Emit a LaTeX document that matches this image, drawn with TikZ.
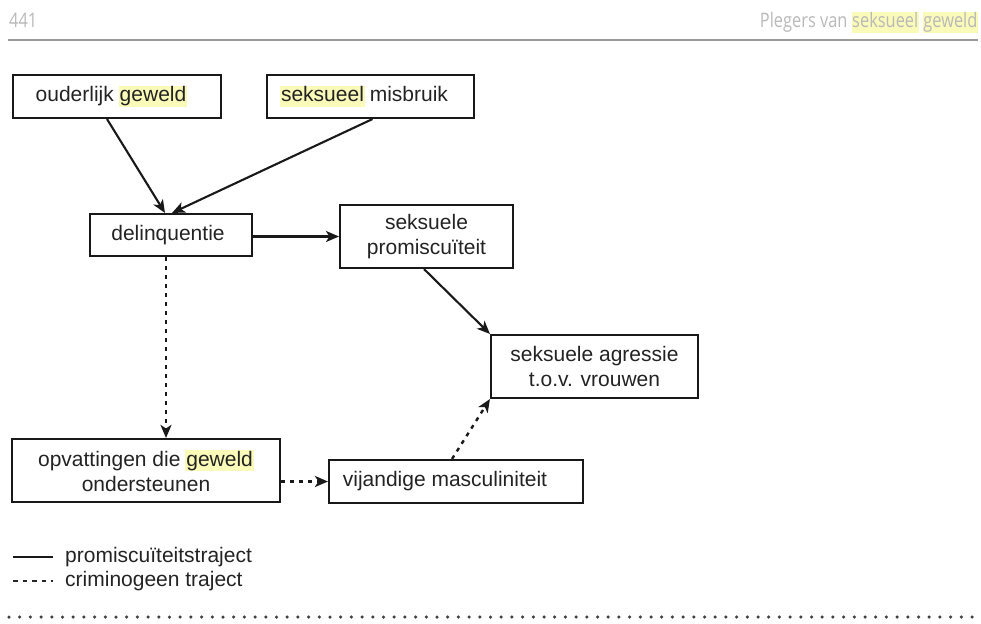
\documentclass[tikz,border=0pt]{standalone}
\usepackage{fontspec}
\setmainfont{Liberation Sans}
\newfontfamily\headfont{Open Sans}
\usetikzlibrary{arrows.meta,calc}
\definecolor{hly}{RGB}{250,250,185}
\definecolor{txt}{RGB}{35,35,35}
\definecolor{headgray}{RGB}{185,185,185}
\newcommand{\hlw}[1]{{\setlength{\fboxsep}{1pt}\hspace{-1pt}\colorbox{hly}{\vphantom{Agd}#1}\hspace{-1pt}}}
\tikzset{
  box/.style={draw=black!90, line width=2.1pt, inner sep=0pt, align=center, text=txt,
    font=\fontsize{21}{25}\selectfont},
  conn/.style={line width=2.1pt, draw=black!90, -{Stealth[length=13pt,width=11pt,inset=3.5pt]}},
  dconn/.style={conn, line width=2.4pt, dash pattern=on 4pt off 5pt},
  legtext/.style={anchor=west, inner sep=0pt, text=txt, font=\fontsize{21}{25}\selectfont},
  headtext/.style={inner sep=0pt, text=headgray}
}
\begin{document}
\begin{tikzpicture}[x=1pt,y=-1pt]
\useasboundingbox (0,0) rectangle (981,623);
% header
\node[headtext, anchor=base west] (pg) at (9,28) {\scalebox{0.82}[1]{\headfont\fontsize{20}{20}\selectfont 441}};
\node[headtext, anchor=base east] (ttl) at (978,28) {\scalebox{0.82}[1]{\headfont\fontsize{20}{20}\selectfont Plegers van {\setlength{\fboxsep}{0.5pt}\colorbox{hly}{\vphantom{Plg}seksueel}} {\setlength{\fboxsep}{0.5pt}\colorbox{hly}{\vphantom{Plg}geweld}}}};
\coordinate (hl1) at (8,40);
\coordinate (hl2) at (978,40);
\draw[line width=2pt, draw=black!40] (hl1) -- (hl2);
% boxes
\node[box, minimum width=208pt, minimum height=43pt] (n1) at (117,96.5) {ouderlijk \hlw{geweld}\hspace*{12pt}};
\node[box, minimum width=207pt, minimum height=43pt] (n2) at (370.5,96.5) {\hlw{seksueel} misbruik\hspace*{12pt}};
\node[box, minimum width=162pt, minimum height=42pt] (n3) at (171,235) {delinquentie\hspace*{6pt}};
\node[box, minimum width=173pt, minimum height=63pt] (n4) at (426.5,236.5) {seksuele\\promiscuïteit};
\node[box, minimum width=207pt, minimum height=63pt] (n5) at (594.5,366.5) {seksuele agressie\\t.o.v. vrouwen};
\node[box, minimum width=268pt, minimum height=63pt] (n6) at (146,470.5) {opvattingen die \hlw{geweld}\\ondersteunen};
\node[box, minimum width=254pt, minimum height=43pt] (n7) at (456,481.5) {vijandige masculiniteit\hspace*{22pt}};
% connectors
\draw[conn] ([xshift=-10pt]n1.south) -- ([xshift=-6pt]n3.north);
\draw[conn] ([xshift=2pt]n2.south) -- ([xshift=1pt]n3.north);
\draw[conn] ([yshift=-1.5pt]n3.east) -- ([yshift=-1.5pt]n3.east -| n4.west);
\draw[conn] ([xshift=-2.5pt]n4.south) -- (n5.north west);
\draw[dconn] ([xshift=-5pt]n3.south) -- ([xshift=-5pt]n3.south |- n6.north);
\draw[dconn] (n7.west -| n6.east) -- (n7.west);
\draw[dconn] ([xshift=-4pt]n7.north) -- (n5.south west);
% legend
\coordinate (l1a) at (13,557);
\coordinate (l1b) at (53,557);
\coordinate (l2a) at (13,581);
\coordinate (l2b) at (53,581);
\draw[line width=2pt, draw=black!90] (l1a) -- (l1b);
\draw[line width=2.2pt, draw=black!85, dash pattern=on 4.5pt off 5pt] (l2a) -- (l2b);
\node[legtext] (lt1) at (65,557) {promiscuïteitstraject};
\node[legtext] (lt2) at (65,581) {criminogeen traject};
% bottom dotted rule
\coordinate (b1) at (9,617);
\coordinate (b2) at (978,617);
\draw[line width=3.5pt, draw=black!75, line cap=round, dash pattern=on 0pt off 10.7pt] (b1) -- (b2);
\end{tikzpicture}
\end{document}
